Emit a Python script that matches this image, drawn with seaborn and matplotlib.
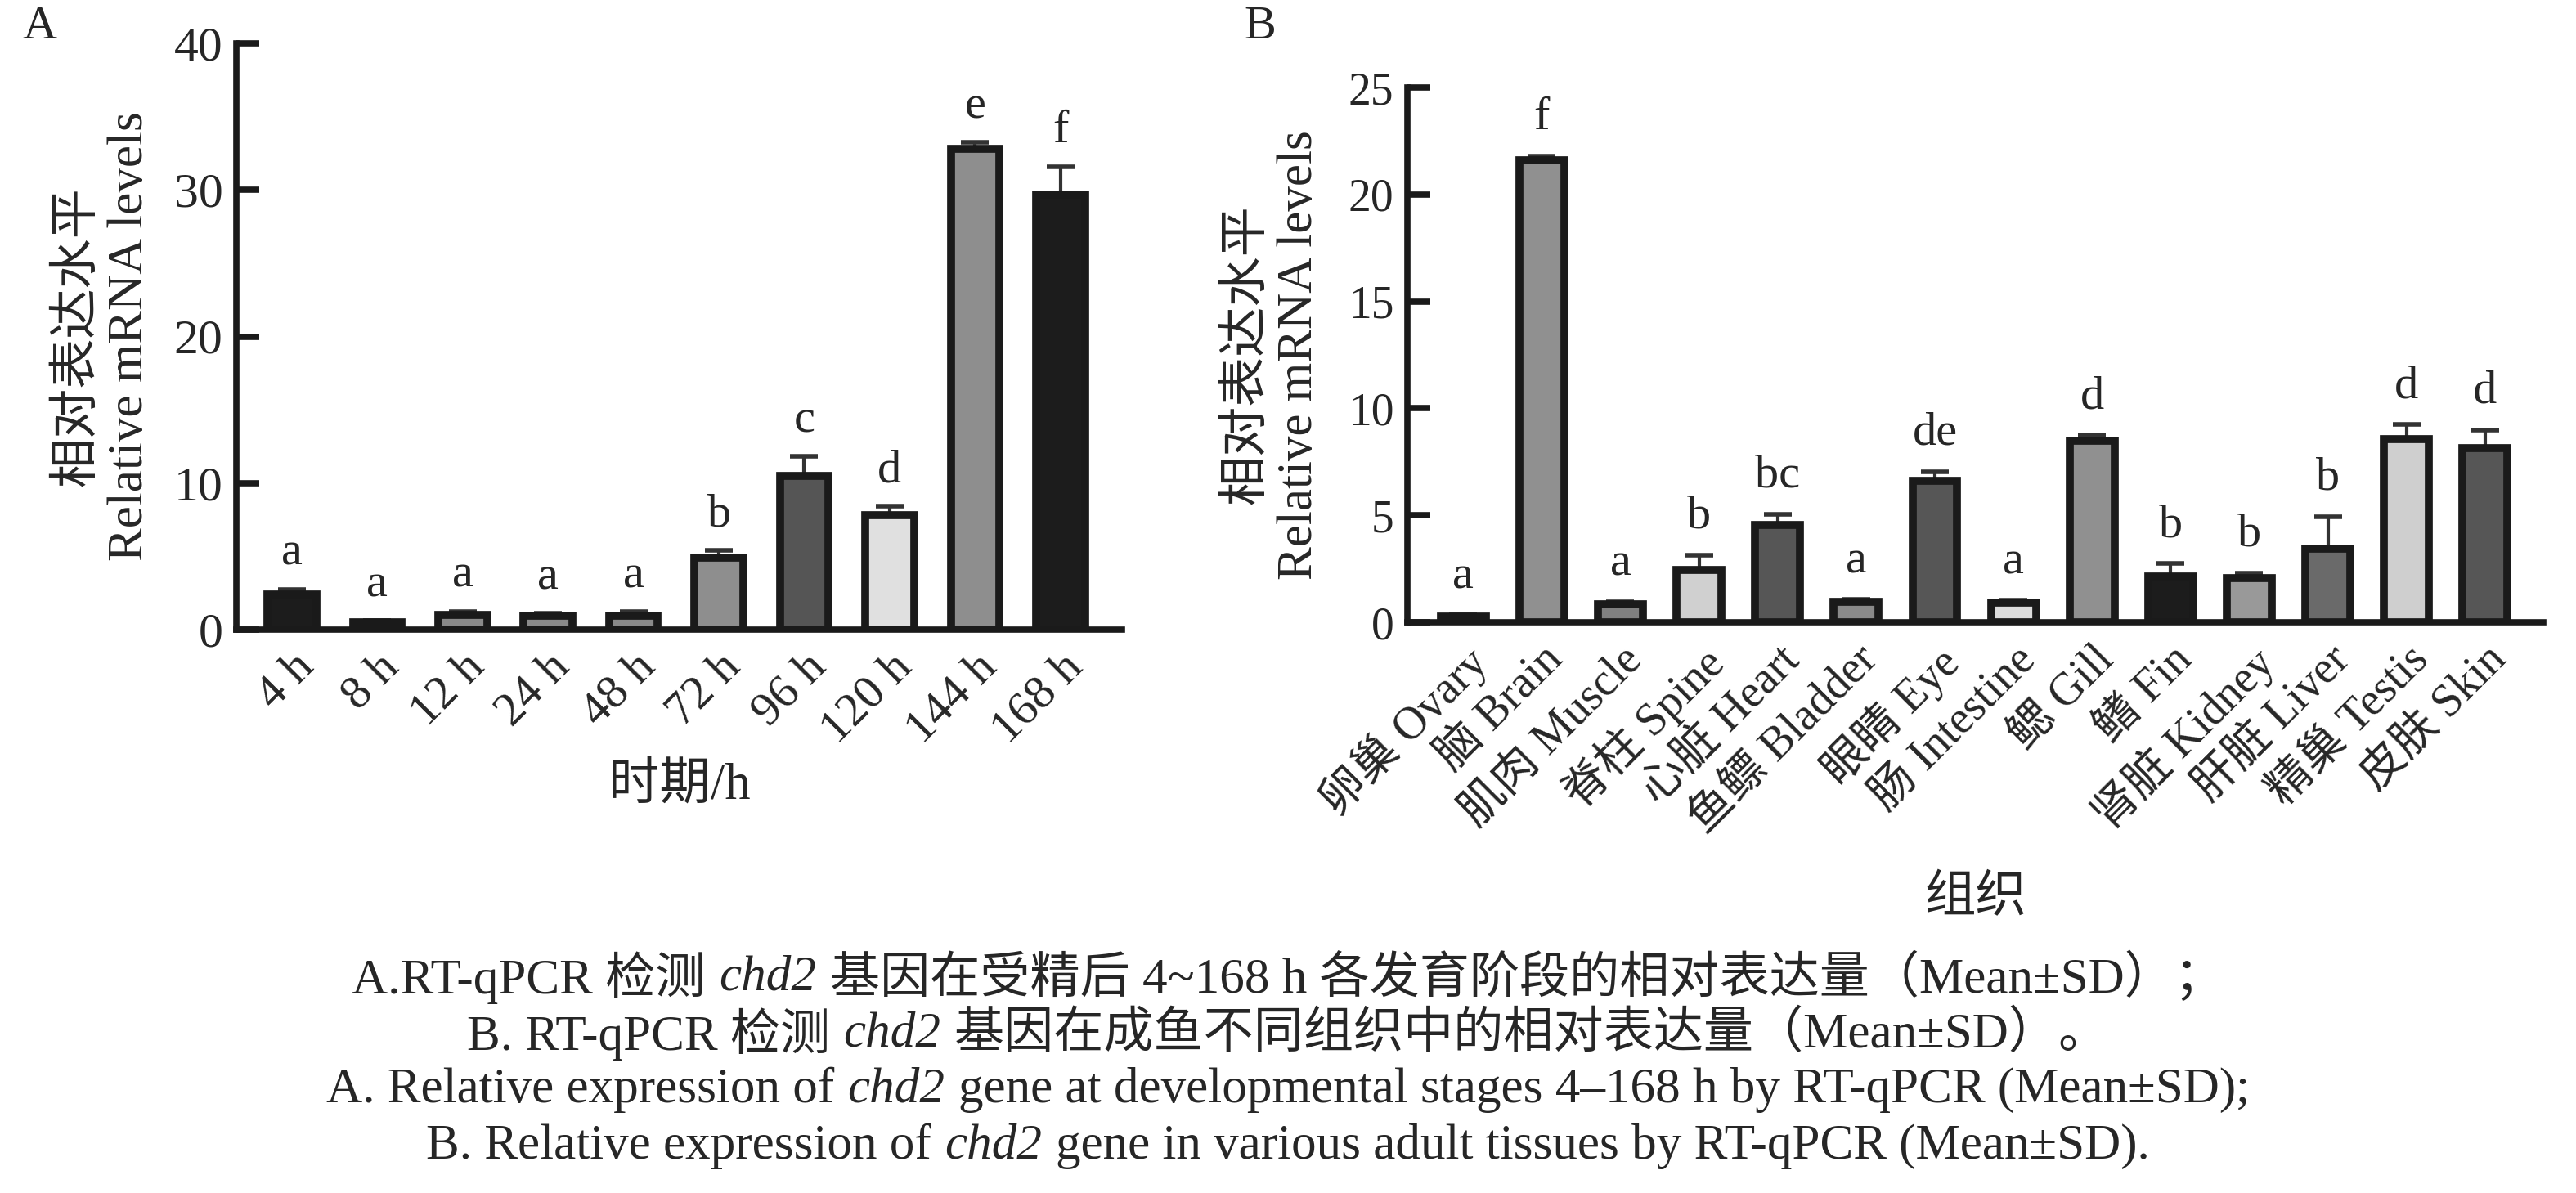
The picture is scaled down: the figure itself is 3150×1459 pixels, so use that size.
import numpy as np
import pandas as pd
import matplotlib
matplotlib.use('Agg')
import matplotlib.pyplot as plt
import seaborn as sns

# panel A: developmental stages
stages = ['4 h', '8 h', '12 h', '24 h', '48 h', '72 h', '96 h', '120 h', '144 h', '168 h']
stage_mean = [2.4, 0.5, 1.0, 0.95, 0.95, 4.9, 10.5, 7.8, 32.8, 29.7]
stage_sd = [0.35, 0.1, 0.25, 0.15, 0.25, 0.5, 1.3, 0.6, 0.45, 1.9]
stage_sig = ['a', 'a', 'a', 'a', 'a', 'b', 'c', 'd', 'e', 'f']
stage_colors = ['#1c1c1c', '#2a2a2a', '#8a8a8a', '#8a8a8a', '#8a8a8a',
                '#8e8e8e', '#555555', '#e0e0e0', '#8e8e8e', '#1c1c1c']

# panel B: adult tissues
tissues = ['卵巢 Ovary', '脑 Brain', '肌肉 Muscle', '脊柱 Spine', '心脏 Heart',
           '鱼鳔 Bladder', '眼睛 Eye', '肠 Intestine', '鳃 Gill', '鳍 Fin',
           '肾脏 Kidney', '肝脏 Liver', '精巢 Testis', '皮肤 Skin']
tissue_mean = [0.25, 21.6, 0.85, 2.45, 4.55, 0.95, 6.6, 0.9, 8.5, 2.15, 2.05, 3.45, 8.55, 8.15]
tissue_sd = [0.08, 0.2, 0.1, 0.7, 0.5, 0.12, 0.45, 0.12, 0.25, 0.6, 0.25, 1.5, 0.7, 0.85]
tissue_sig = ['a', 'f', 'a', 'b', 'bc', 'a', 'de', 'a', 'd', 'b', 'b', 'b', 'd', 'd']
tissue_colors = ['#333333', '#909090', '#808080', '#d0d0d0', '#565656', '#8a8a8a', '#565656',
                 '#dcdcdc', '#909090', '#1c1c1c', '#999999', '#6a6a6a', '#cfcfcf', '#565656']

caption = [
    [('A.RT-qPCR 检测', False), ('chd2', True), ('基因在受精后 4~168 h 各发育阶段的相对表达量（Mean±SD）；', False)],
    [('B. RT-qPCR 检测', False), ('chd2', True), ('基因在成鱼不同组织中的相对表达量（Mean±SD）。', False)],
    [('A. Relative expression of', False), ('chd2', True), ('gene at developmental stages 4–168 h by RT-qPCR (Mean±SD);', False)],
    [('B. Relative expression of', False), ('chd2', True), ('gene in various adult tissues by RT-qPCR (Mean±SD).', False)],
]

sns.set_style('ticks')
FONTS = ['Liberation Serif', 'Noto Sans CJK SC', 'DejaVu Sans']
plt.rcParams['font.family'] = FONTS
plt.rcParams['axes.unicode_minus'] = False

W, H = 3150, 1459
fig = plt.figure(figsize=(W / 100, H / 100), dpi=100)
INK = '#1a1a1a'


def panel(rect, cats, means, sds, sig, colors, ymax, ystep, pad, tsize, xsize, xlim):
    ax = fig.add_axes(rect)
    df = pd.DataFrame({'cat': cats, 'val': means})
    sns.barplot(data=df, x='cat', y='val', hue='cat', order=cats, hue_order=cats,
                palette=colors, legend=False, ax=ax, width=0.57, saturation=1,
                edgecolor=INK, linewidth=7, errorbar=None, zorder=3)
    xs = np.arange(len(cats))
    ax.errorbar(xs, means, yerr=[np.zeros(len(cats)), sds], fmt='none', ecolor='#333333',
                elinewidth=3, capsize=12, capthick=4, zorder=2)
    for x, m, s, t in zip(xs, means, sds, sig):
        ax.text(x, m + s + pad, t, ha='center', va='bottom', fontsize=42)
    ax.set_ylim(0, ymax)
    ax.set_xlim(*xlim)
    ax.set_yticks(np.arange(0, ymax + 0.1, ystep))
    sns.despine(ax=ax)
    for sp in ['left', 'bottom']:
        ax.spines[sp].set_linewidth(5.5)
        ax.spines[sp].set_color(INK)
        ax.spines[sp].set_zorder(4)
    ax.tick_params(axis='y', direction='in', length=20, width=5.5, color=INK,
                   labelsize=tsize, pad=12)
    ax.tick_params(axis='x', direction='in', length=8, width=6, color=INK,
                   labelsize=xsize, pad=14)
    ax.set_xticks(xs)
    ax.set_xticklabels(cats, rotation=45, ha='right', rotation_mode='anchor')
    ax.set_ylabel('相对表达水平\nRelative mRNA levels', fontsize=44, linespacing=1.2)
    return ax


axA = panel([289 / W, 1 - 770 / H, 1083 / W, 717 / H], stages, stage_mean, stage_sd,
            stage_sig, stage_colors, 40, 10, 1.0, 43, 42, (-0.65, 9.72))
axA.set_xlabel('时期/h', fontsize=45)
axA.xaxis.set_label_coords(0.5, -0.227)
axA.yaxis.set_label_coords(-0.094, 0.5)

axB = panel([1721 / W, 1 - 761 / H, 1389 / W, 654 / H], tissues, tissue_mean, tissue_sd,
            tissue_sig, tissue_colors, 25, 5, 0.8, 40, 40, (-0.71, 13.74))
axB.set_xlabel('组织', fontsize=45)
axB.xaxis.set_label_coords(0.5, -0.474)
axB.yaxis.set_label_coords(-0.075, 0.5)

fig.text(27 / W, 1 - 33 / H, 'A', fontsize=42, ha='left', va='center')
fig.text(1521 / W, 1 - 33 / H, 'B', fontsize=42, ha='left', va='center')

# caption, centred line by line, with italic gene name
renderer = fig.canvas.get_renderer()
cap_size = 44
gap = 0.27 * cap_size * 100 / 72 / W
for line, yc in zip(caption, [1196, 1265, 1333, 1402]):
    texts = []
    x = 0.0
    for s, it in line:
        t = fig.text(x, 1 - yc / H, s, fontsize=cap_size, style='italic' if it else 'normal',
                     ha='left', va='center')
        w = t.get_window_extent(renderer).width / W
        texts.append(t)
        x += w + gap
    total = x - gap
    shift = 0.5 - total / 2
    for t in texts:
        px, py = t.get_position()
        t.set_position((px + shift, py))

fig.savefig('out.png', dpi=100)
